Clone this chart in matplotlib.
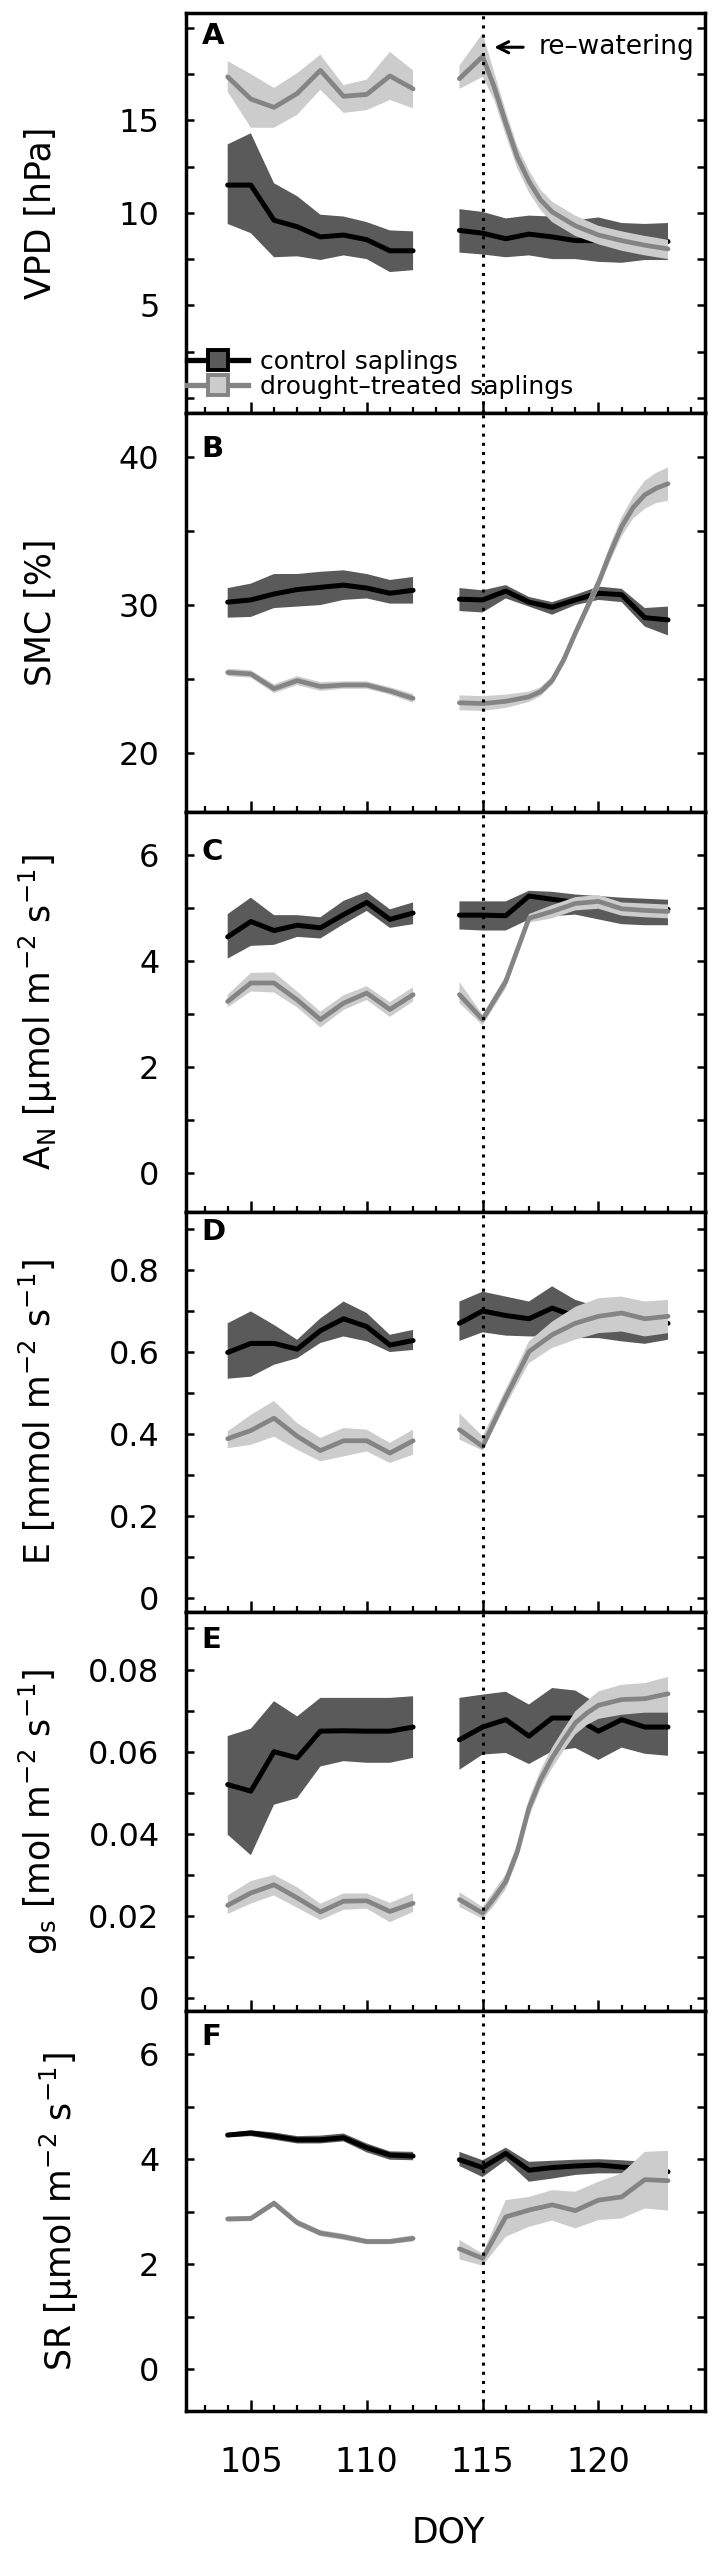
import numpy as np
import matplotlib
matplotlib.use('Agg')
import matplotlib.pyplot as plt
from matplotlib.lines import Line2D

nan = np.nan

# days of year, 113 is the gap between the two campaigns
days = [104, 105, 106, 107, 108, 109, 110, 111, 112, 113,
        114, 115, 116, 117, 118, 119, 120, 121, 122, 123]

# A - VPD
vpd_ctrl = [11.5, 11.5, 9.6, 9.25, 8.7, 8.8, 8.55, 7.95, 7.95, nan,
            9.05, 8.9, 8.6, 8.85, 8.7, 8.5, 8.5, 8.5, 8.5, 8.45]
vpd_ctrl_lo = [9.4, 8.9, 7.6, 7.65, 7.45, 7.7, 7.5, 6.8, 6.9, nan,
               7.85, 7.75, 7.6, 7.7, 7.5, 7.5, 7.35, 7.3, 7.45, 7.45]
vpd_ctrl_hi = [13.7, 14.3, 11.6, 10.9, 9.9, 9.8, 9.5, 9.05, 9.0, nan,
               10.2, 10.05, 9.7, 9.85, 9.8, 9.6, 9.75, 9.45, 9.4, 9.45]
vpd_dry_days = [104, 105, 106, 107, 108, 109, 110, 111, 112, 113,
                114, 115, 115.5, 116, 116.5, 117, 117.5, 118, 119, 120, 121, 122, 123]
vpd_dry = [17.35, 16.15, 15.7, 16.45, 17.7, 16.3, 16.4, 17.4, 16.7, nan,
           17.25, 18.45, 16.8, 14.85, 13.0, 11.7, 10.7, 10.05, 9.3, 8.8, 8.5, 8.25, 8.05]
vpd_dry_lo = [16.55, 14.6, 14.6, 15.3, 16.65, 15.4, 15.55, 16.1, 15.65, nan,
              16.7, 17.35, 16.1, 14.2, 12.4, 11.1, 10.15, 9.5, 8.75, 8.3, 7.95, 7.7, 7.5]
vpd_dry_hi = [18.2, 17.5, 16.75, 17.55, 18.55, 16.9, 17.2, 18.7, 17.7, nan,
              17.95, 19.7, 17.6, 15.5, 13.6, 12.3, 11.25, 10.6, 9.85, 9.3, 9.0, 8.75, 8.55]

# B - SMC
smc_ctrl = [30.2, 30.35, 30.75, 31.05, 31.2, 31.35, 31.15, 30.8, 31.0, nan,
            30.4, 30.35, 30.95, 30.2, 29.85, 30.35, 30.8, 30.7, 29.15, 29.0]
smc_ctrl_lo = [29.15, 29.2, 29.8, 29.9, 30.0, 30.35, 30.45, 30.1, 30.1, nan,
               29.6, 29.5, 30.45, 29.9, 29.35, 30.0, 30.35, 30.2, 28.55, 27.95]
smc_ctrl_hi = [31.15, 31.45, 32.1, 32.1, 32.25, 32.35, 32.1, 31.7, 31.9, nan,
               31.15, 31.0, 31.35, 30.55, 30.2, 30.7, 31.25, 31.1, 29.8, 29.9]
smc_dry_days = [104, 105, 106, 107, 108, 109, 110, 111, 112, 113,
                114, 115, 116, 117, 117.5, 118, 118.5, 119, 119.5, 120, 120.5,
                121, 121.5, 122, 122.5, 123]
smc_dry = [25.45, 25.35, 24.35, 24.9, 24.5, 24.6, 24.6, 24.2, 23.7, nan,
           23.4, 23.35, 23.5, 23.8, 24.15, 24.9, 26.3, 28.1, 29.8, 31.5, 33.5,
           35.3, 36.6, 37.45, 37.9, 38.2]
smc_dry_lo = [25.2, 25.1, 24.05, 24.6, 24.2, 24.35, 24.35, 23.95, 23.4, nan,
              22.9, 22.85, 23.05, 23.45, 23.85, 24.6, 25.95, 27.75, 29.4, 31.05, 32.95,
              34.65, 35.85, 36.5, 36.9, 37.05]
smc_dry_hi = [25.7, 25.6, 24.65, 25.2, 24.8, 24.85, 24.85, 24.45, 24.0, nan,
              23.9, 23.85, 23.95, 24.15, 24.45, 25.2, 26.65, 28.45, 30.2, 31.95, 34.05,
              35.95, 37.35, 38.4, 38.95, 39.3]

# C - net assimilation
an_ctrl = [4.45, 4.74, 4.57, 4.67, 4.62, 4.87, 5.1, 4.78, 4.9, nan,
           4.86, 4.86, 4.85, 5.22, 5.16, 5.1, 5.03, 5.0, 5.0, 4.97]
an_ctrl_lo = [4.04, 4.28, 4.3, 4.45, 4.42, 4.69, 4.94, 4.62, 4.69, nan,
              4.59, 4.57, 4.57, 4.78, 4.84, 4.87, 4.78, 4.69, 4.67, 4.67]
an_ctrl_hi = [4.88, 5.19, 4.86, 4.86, 4.82, 5.13, 5.3, 4.97, 5.1, nan,
              5.12, 5.12, 5.12, 5.32, 5.3, 5.25, 5.22, 5.19, 5.17, 5.15]
an_dry = [3.23, 3.58, 3.58, 3.26, 2.89, 3.2, 3.39, 3.08, 3.36, nan,
          3.36, 2.89, 3.61, 4.8, 4.93, 5.08, 5.12, 4.98, 4.95, 4.93]
an_dry_lo = [3.12, 3.42, 3.4, 3.12, 2.74, 3.07, 3.26, 2.94, 3.23, nan,
             3.2, 2.78, 3.48, 4.72, 4.8, 4.95, 4.98, 4.85, 4.82, 4.8]
an_dry_hi = [3.36, 3.77, 3.78, 3.42, 3.04, 3.35, 3.52, 3.22, 3.5, nan,
             3.6, 2.98, 3.72, 4.88, 5.05, 5.2, 5.24, 5.1, 5.08, 5.06]

# D - transpiration
e_ctrl = [0.599, 0.621, 0.621, 0.607, 0.652, 0.681, 0.662, 0.617, 0.628, nan,
          0.67, 0.7, 0.689, 0.681, 0.707, 0.687, 0.674, 0.66, 0.666, 0.67]
e_ctrl_lo = [0.535, 0.54, 0.569, 0.585, 0.622, 0.638, 0.626, 0.6, 0.605, nan,
             0.627, 0.648, 0.64, 0.638, 0.638, 0.634, 0.634, 0.626, 0.62, 0.63]
e_ctrl_hi = [0.67, 0.699, 0.666, 0.63, 0.682, 0.723, 0.695, 0.642, 0.654, nan,
             0.723, 0.747, 0.735, 0.723, 0.76, 0.727, 0.71, 0.707, 0.707, 0.707]
e_dry = [0.389, 0.409, 0.439, 0.395, 0.36, 0.384, 0.384, 0.354, 0.384, nan,
         0.411, 0.37, 0.49, 0.601, 0.642, 0.67, 0.687, 0.695, 0.681, 0.687]
e_dry_lo = [0.366, 0.374, 0.394, 0.362, 0.334, 0.346, 0.358, 0.33, 0.35, nan,
            0.387, 0.36, 0.47, 0.573, 0.61, 0.63, 0.646, 0.65, 0.638, 0.646]
e_dry_hi = [0.407, 0.447, 0.481, 0.427, 0.391, 0.415, 0.411, 0.379, 0.411, nan,
            0.451, 0.395, 0.51, 0.626, 0.674, 0.71, 0.731, 0.735, 0.723, 0.727]

# E - stomatal conductance
gs_ctrl = [0.052, 0.0504, 0.06, 0.0585, 0.065, 0.0651, 0.065, 0.065, 0.066, nan,
           0.0629, 0.066, 0.0678, 0.0638, 0.0682, 0.0682, 0.065, 0.0678, 0.066, 0.066]
gs_ctrl_lo = [0.0398, 0.0348, 0.0471, 0.0487, 0.0564, 0.0577, 0.0573, 0.0573, 0.0585, nan,
              0.0556, 0.0593, 0.0597, 0.057, 0.0601, 0.0609, 0.058, 0.061, 0.0595, 0.059]
gs_ctrl_hi = [0.0638, 0.0656, 0.0723, 0.0686, 0.0731, 0.0731, 0.0731, 0.0731, 0.0735, nan,
              0.0731, 0.0739, 0.0746, 0.0715, 0.0755, 0.0749, 0.0715, 0.0715, 0.071, 0.071]
gs_dry_days = [104, 105, 106, 107, 108, 109, 110, 111, 112, 113,
               114, 115, 115.5, 116, 116.5, 117, 117.5, 118, 118.5, 119, 119.5,
               120, 121, 122, 123]
gs_dry = [0.0226, 0.0256, 0.0276, 0.0244, 0.021, 0.0236, 0.0237, 0.0211, 0.0231, nan,
          0.024, 0.0207, 0.0244, 0.0284, 0.0357, 0.0463, 0.0532, 0.0585, 0.0629, 0.067, 0.0694,
          0.0713, 0.0727, 0.0729, 0.0741]
gs_dry_lo = [0.0205, 0.023, 0.025, 0.022, 0.019, 0.0215, 0.0218, 0.0185, 0.021, nan,
             0.0222, 0.0193, 0.0226, 0.0265, 0.0337, 0.0441, 0.051, 0.056, 0.0603, 0.0642, 0.0665,
             0.068, 0.069, 0.0695, 0.0695]
gs_dry_hi = [0.025, 0.0285, 0.030, 0.027, 0.023, 0.0255, 0.0255, 0.0232, 0.0255, nan,
             0.0258, 0.0222, 0.0262, 0.0302, 0.0377, 0.0485, 0.0555, 0.061, 0.0655, 0.0698, 0.0723,
             0.0747, 0.0763, 0.0767, 0.0782]

# F - soil respiration
sr_ctrl = [4.46, 4.5, 4.44, 4.37, 4.37, 4.41, 4.22, 4.08, 4.06, nan,
           3.99, 3.84, 4.11, 3.79, 3.84, 3.87, 3.89, 3.85, 3.82, 3.76]
sr_ctrl_lo = [4.42, 4.44, 4.37, 4.3, 4.3, 4.34, 4.13, 3.99, 3.98, nan,
              3.87, 3.66, 3.98, 3.57, 3.63, 3.7, 3.73, 3.73, 3.7, 3.65]
sr_ctrl_hi = [4.5, 4.55, 4.51, 4.44, 4.45, 4.49, 4.3, 4.15, 4.14, nan,
              4.14, 3.98, 4.22, 3.95, 3.97, 3.99, 4.0, 3.98, 3.95, 3.9]
sr_dry = [2.86, 2.87, 3.16, 2.79, 2.59, 2.52, 2.43, 2.43, 2.49, nan,
          2.29, 2.11, 2.9, 3.03, 3.13, 3.02, 3.22, 3.28, 3.61, 3.59]
sr_dry_lo = [2.81, 2.82, 3.1, 2.73, 2.53, 2.46, 2.38, 2.38, 2.43, nan,
             2.09, 1.97, 2.52, 2.71, 2.83, 2.68, 2.84, 2.87, 3.06, 3.02]
sr_dry_hi = [2.91, 2.92, 3.22, 2.85, 2.65, 2.58, 2.48, 2.48, 2.55, nan,
             2.46, 2.2, 3.22, 3.28, 3.41, 3.38, 3.57, 3.73, 4.14, 4.16]

CTRL_BAND = '#5a5a5a'
DRY_BAND = '#cccccc'
DRY_LINE = '#848484'


def draw(ax, c_mean, c_lo, c_hi, d_days, d_mean, d_lo, d_hi):
    ax.fill_between(days, c_lo, c_hi, color=CTRL_BAND, lw=0, zorder=1)
    ax.plot(days, c_mean, color='k', lw=3.6, solid_capstyle='round', zorder=2)
    ax.fill_between(d_days, d_lo, d_hi, color=DRY_BAND, lw=0, zorder=3)
    ax.plot(d_days, d_mean, color=DRY_LINE, lw=3.4, solid_capstyle='round', zorder=4)


fig, axes = plt.subplots(6, 1, figsize=(7.18, 25.51), dpi=100, sharex=True)
fig.subplots_adjust(left=0.259, right=0.982, top=0.9949, bottom=0.0549, hspace=0)

draw(axes[0], vpd_ctrl, vpd_ctrl_lo, vpd_ctrl_hi, vpd_dry_days, vpd_dry, vpd_dry_lo, vpd_dry_hi)
draw(axes[1], smc_ctrl, smc_ctrl_lo, smc_ctrl_hi, smc_dry_days, smc_dry, smc_dry_lo, smc_dry_hi)
draw(axes[2], an_ctrl, an_ctrl_lo, an_ctrl_hi, days, an_dry, an_dry_lo, an_dry_hi)
draw(axes[3], e_ctrl, e_ctrl_lo, e_ctrl_hi, days, e_dry, e_dry_lo, e_dry_hi)
draw(axes[4], gs_ctrl, gs_ctrl_lo, gs_ctrl_hi, gs_dry_days, gs_dry, gs_dry_lo, gs_dry_hi)
draw(axes[5], sr_ctrl, sr_ctrl_lo, sr_ctrl_hi, days, sr_dry, sr_dry_lo, sr_dry_hi)

ylims = [(-0.8, 20.8), (16.0, 43.0), (-0.74, 6.8), (-0.032, 0.941), (-0.0032, 0.0941), (-0.8, 6.82)]
yticks = [[0, 2.5, 5, 7.5, 10, 12.5, 15, 17.5, 20],
          [20, 25, 30, 35, 40],
          [0, 1, 2, 3, 4, 5, 6],
          [0, 0.1, 0.2, 0.3, 0.4, 0.5, 0.6, 0.7, 0.8, 0.9],
          [0, 0.01, 0.02, 0.03, 0.04, 0.05, 0.06, 0.07, 0.08, 0.09],
          [0, 1, 2, 3, 4, 5, 6]]
yticklabels = [['', '', '5', '', '10', '', '15', '', ''],
               ['20', '', '30', '', '40'],
               ['0', '', '2', '', '4', '', '6'],
               ['0', '', '0.2', '', '0.4', '', '0.6', '', '0.8', ''],
               ['0', '', '0.02', '', '0.04', '', '0.06', '', '0.08', ''],
               ['0', '', '2', '', '4', '', '6']]
ylabels = ['VPD [hPa]',
           'SMC [%]',
           r'A$_\mathrm{N}$ [μmol m$^{-2}$ s$^{-1}$]',
           r'E [mmol m$^{-2}$ s$^{-1}$]',
           r'g$_\mathrm{s}$ [mol m$^{-2}$ s$^{-1}$]',
           r'SR [μmol m$^{-2}$ s$^{-1}$]']
ylabel_x = [-0.26, -0.26, -0.26, -0.26, -0.26, -0.22]
letters = ['A', 'B', 'C', 'D', 'E', 'F']
letter_y = [0.942, 0.91, 0.90, 0.95, 0.93, 0.935]

for i, ax in enumerate(axes):
    ax.set_xlim(102.2, 124.6)
    ax.set_ylim(*ylims[i])
    ax.set_yticks(yticks[i])
    ax.set_yticklabels(yticklabels[i])
    ax.set_xticks([105, 110, 115, 120])
    ax.set_xticks(range(103, 125), minor=True)
    ax.tick_params(axis='y', which='both', direction='in', left=True, right=True,
                   length=6, width=1.8, labelsize=23, pad=19)
    ax.tick_params(axis='x', which='major', direction='in', top=False,
                   length=8, width=1.8, labelsize=24, pad=25)
    ax.tick_params(axis='x', which='minor', direction='in', top=False,
                   length=4.5, width=1.6)
    if i < 5:
        ax.tick_params(axis='x', labelbottom=False)
    for s in ax.spines.values():
        s.set_linewidth(2.5)
    ax.set_ylabel(ylabels[i], fontsize=25)
    ax.yaxis.set_label_coords(ylabel_x[i], 0.5)
    ax.yaxis.label.set_verticalalignment('baseline')
    ax.text(0.03, letter_y[i], letters[i], transform=ax.transAxes,
            fontsize=21, fontweight='bold', ha='left', va='center')
    ax.axvline(115, color='k', ls=(0, (1, 2)), lw=2.2, zorder=10)

# re-watering marker
axes[0].annotate('', xy=(115.5, 18.95), xytext=(116.75, 18.95),
                 arrowprops=dict(arrowstyle='->', lw=2.2, color='k',
                                 shrinkA=0, shrinkB=0, mutation_scale=20))
axes[0].text(117.42, 18.95, 're–watering', fontsize=19, ha='left', va='center')

handles = [Line2D([], [], color='k', lw=3.8, marker='s', ms=15,
                  mfc=CTRL_BAND, mec='k', mew=2.8),
           Line2D([], [], color=DRY_LINE, lw=3.8, marker='s', ms=15,
                  mfc=DRY_BAND, mec=DRY_LINE, mew=2.8)]
axes[0].legend(handles, ['control saplings', 'drought–treated saplings'],
               loc='lower left', bbox_to_anchor=(0.002, 0.035), frameon=False,
               fontsize=18, handlelength=2.45, handletextpad=0.45,
               labelspacing=0.02, borderpad=0, borderaxespad=0)

axes[5].set_xlabel('DOY', fontsize=25)
axes[5].xaxis.set_label_coords(0.505, -0.262)

fig.savefig('out.png', dpi=100)
